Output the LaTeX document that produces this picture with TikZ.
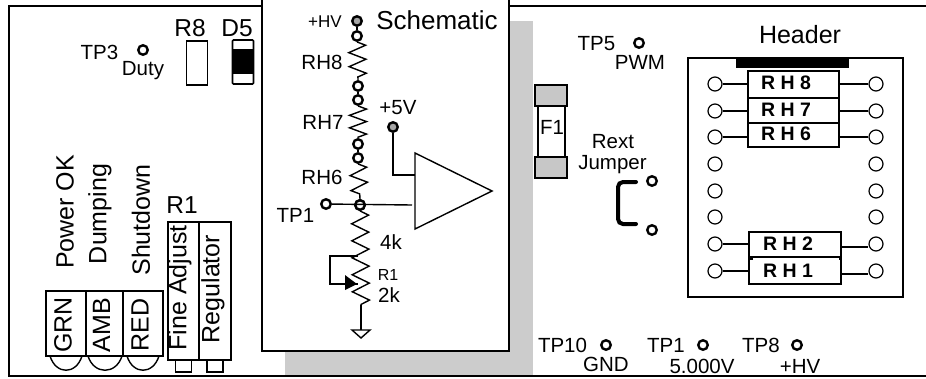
\documentclass[tikz,border=0pt]{standalone}
\usepackage{fontspec}
\setmainfont{Liberation Sans}
\usetikzlibrary{positioning,arrows.meta,decorations.pathmorphing}
\newcommand{\fsz}[1]{\fontsize{#1}{#1}\selectfont}

\begin{document}
\begin{tikzpicture}[
    x=1pt, y=-1pt,
    % Define styles for the board parts
    label_big/.style={font=\fsz{25}, inner sep=0pt},
    label_ref/.style={font=\fsz{24.5}, inner sep=0pt},
    label_mid/.style={font=\fsz{20.5}, inner sep=0pt},
    label_rh/.style={font=\fsz{19.5}\bfseries, inner sep=0pt, anchor=west},
    part/.style={rectangle, draw=black, line width=1.4pt, fill=white, inner sep=0pt},
    resbox/.style={part, minimum width=91pt},
    capbox/.style={part, fill=black!22, minimum width=32pt, minimum height=21pt},
    tpoint/.style={circle, draw=black, line width=2.4pt, fill=white, minimum size=9.5pt, inner sep=0pt},
    supply/.style={tpoint, fill=black!35},
    pin/.style={circle, draw=black, line width=1.2pt, fill=white, minimum size=14pt, inner sep=0pt},
    wire/.style={line width=1.4pt},
    rzig/.style={wire, decorate, decoration={zigzag, segment length=#1, amplitude=8.5pt}},
    rzig/.default=15pt,
    edge_line/.style={line width=2.4pt}
]
    \useasboundingbox (0,0) rectangle (926,378);

    % Board outline and shadow
    \fill[black!20] (285,21) rectangle (533,375);
    \draw[edge_line] (261,6) -- (9,6) -- (9,376) -- (926,376);
    \draw[edge_line] (510,6) -- (926,6);
    \draw[edge_line, fill=white] (262,-3) rectangle (509,351);

    % Left side labels
    \node[label_mid] (tp3_txt) at (99.5,52) {TP3};
    \node[tpoint] (tp3) at (143,50) {};
    \node[label_mid] (duty) at (143,71) {Duty};
    \node[label_ref] (r8_txt) at (190,28) {R8};
    \node[label_ref] (d5_txt) at (237,28) {D5};
    \node[part, minimum width=21pt, minimum height=44pt] (r8) at (197,63) {};
    \node[part, line width=1.6pt, rounded corners=1pt, minimum width=21pt, minimum height=44pt] (d5) at (243,62) {};
    \node[rectangle, fill=black, minimum width=21pt, minimum height=25pt, inner sep=0pt] (d5_band) at (243,61) {};

    % Status LEDs
    \node[label_big, rotate=90] (pok) at (65,212) {Power OK};
    \node[label_big, rotate=90] (dump) at (100,214) {Dumping};
    \node[label_big, rotate=90] (shut) at (141,220) {Shutdown};
    \foreach \x/\w/\name in {66/40/GRN,104.5/37/AMB,143/40/RED} {
        \node[part, minimum width=\w pt, minimum height=65pt] (led\name) at (\x,323.5) {};
        \node[label_big, rotate=90] (txt\name) at (\x-3,325) {\name};
    }
    \draw[wire] (50,356) .. controls (56,375) and (76,375) .. (82,356);
    \draw[wire] (88,356) .. controls (94,375) and (116,375) .. (122,356);
    \draw[wire] (127,356) .. controls (133,375) and (153,375) .. (159,356);

    % Trim pots
    \node[label_ref] (r1_txt) at (182,205) {R1};
    \node[part, minimum width=16pt, minimum height=12pt] (foot1) at (183.5,366) {};
    \node[part, minimum width=16pt, minimum height=12pt] (foot2) at (215,366) {};
    \node[part, minimum width=31pt, minimum height=138pt] (pot1) at (183.5,291) {};
    \node[part, minimum width=32pt, minimum height=138pt] (pot2) at (215,291) {};
    \node[label_big, rotate=90] (fine) at (180,288) {Fine Adjust};
    \node[label_big, rotate=90] (reg) at (213,289) {Regulator};

    % Schematic
    \node[font=\fsz{26}, inner sep=0pt] (sch) at (437,20) {Schematic};
    \node[font=\fsz{17}, inner sep=0pt] (hv_txt) at (325,22) {+HV};
    \node[supply] (hv) at (357,21) {};
    \node[tpoint] (a1) at (357,36) {};
    \node[tpoint] (a2) at (358,86) {};
    \node[tpoint] (b1) at (358,100) {};
    \node[tpoint] (b2) at (358,144) {};
    \node[tpoint] (c1) at (358,158) {};
    \node[tpoint] (c2) at (360,205) {};
    \node[tpoint] (tp1) at (326,204) {};
    \node[supply] (vcc) at (393,127) {};
    \coordinate (wip) at (358,284);
    \coordinate (rtop) at (358,256);
    \coordinate (rend) at (361,305);
    \coordinate (gnd) at (361,330);
    \coordinate (amp_p) at (412,205);
    \coordinate (amp_v) at (415,175);

    \draw[wire] (hv) -- (a1);
    \draw[wire] (a2) -- (b1);
    \draw[wire] (b2) -- (c1);
    \draw[rzig=14pt] (a1.south) -- (a2.north);
    \draw[rzig=12.5pt] (b1.south) -- (b2.north);
    \draw[rzig=15pt] (c1.south) -- (c2.north);
    \draw[rzig=17pt] (c2.south) -- (rend);
    \node[tpoint] at (c2) {};
    \draw[wire] (rend) -- (gnd);
    \draw[wire] (352,330) -- (370,330) -- (361,338) -- cycle;
    \draw[wire] (rtop) -- (330,256) -- (330,284) -- (wip);
    \fill (345,275) -- (345,290) -- (357,284) -- cycle;

    \draw[wire] (tp1) -- (amp_p);
    \draw[wire] (vcc) |- (amp_v);
    \draw[line width=1.4pt, fill=white] (415,153) -- (492,191) -- (415,229) -- cycle;

    \node[label_mid] (rh8_txt) at (322,62) {RH8};
    \node[label_mid] (rh7_txt) at (323,122) {RH7};
    \node[label_mid] (rh6_txt) at (322,177) {RH6};
    \node[label_mid] (v5_txt) at (398,108) {+5V};
    \node[label_mid] (tp1_txt) at (295.5,215) {TP1};
    \node[label_mid] (k4_txt) at (391,242) {4k};
    \node[font=\fsz{16}, inner sep=0pt] (r1s_txt) at (388,275) {R1};
    \node[label_mid] (k2_txt) at (389,295) {2k};

    % Fuse
    \node[part, minimum width=27pt, minimum height=52pt] (fuse) at (551.5,131.5) {};
    \node[capbox] (cap1) at (551,95.5) {};
    \node[capbox] (cap2) at (551,167.5) {};
    \node[label_mid] (f1_txt) at (552,127) {F1};

    % Test points and jumper
    \node[label_mid] (tp5_txt) at (596.5,44) {TP5};
    \node[tpoint] (tp5) at (639,43) {};
    \node[label_mid] (pwm) at (640,62) {PWM};
    \node[label_mid] (rext) at (613,142) {Rext};
    \node[label_mid] (jump) at (612.5,165) {Jumper};
    \node[tpoint] (j1) at (652,181) {};
    \node[tpoint] (j2) at (652,230) {};
    \draw[line width=4pt, line cap=round, rounded corners=5pt] (636,182) -- (618,182) -- (618,224) -- (636,224);

    \node[label_mid] (tp10_txt) at (562.5,345) {TP10};
    \node[tpoint] (tp10) at (606,345) {};
    \node[label_mid] (gnd_txt) at (606,364) {GND};
    \node[label_mid] (tp1b_txt) at (666,345) {TP1};
    \node[tpoint] (tp1b) at (703,345) {};
    \node[label_mid] (v_txt) at (702,366) {5.000V};
    \node[label_mid] (tp8_txt) at (761,345) {TP8};
    \node[tpoint] (tp8) at (797,345) {};
    \node[label_mid] (hvb_txt) at (800,366) {+HV};

    % Header socket
    \node[font=\fsz{25}, inner sep=0pt] (hdr_txt) at (800,35) {Header};
    \node[rectangle, draw=black, line width=1.4pt, minimum width=215pt, minimum height=239pt, inner sep=0pt] (hdr) at (795.5,177.5) {};
    \fill (736,58) rectangle (849,68);
    \foreach \y [count=\i] in {84,111,137,164,191,217,244,271} {
        \node[pin] (l\i) at (715,\y) {};
        \node[pin] (r\i) at (876,\y) {};
    }

    % Header resistors
    \node[resbox, minimum height=27pt] (rh8) at (793.5,84.5) {};
    \node[resbox, minimum height=25pt] (rh7) at (793.5,110.5) {};
    \node[resbox, minimum height=24pt] (rh6) at (793.5,135) {};
    \node[resbox, minimum height=25pt, minimum width=92pt] (rh2) at (795,244.5) {};
    \draw[wire] (753,259) -- (749,259) -- (749,284) -- (841,284) -- (841,259) -- (839,259);
    \coordinate (rh1w) at (749,271);
    \coordinate (rh1e) at (841,274);
    \foreach \i/\name in {1/rh8,2/rh7,3/rh6,7/rh2} {
        \draw[wire] (l\i) -- (\name.west |- l\i);
    }
    \draw[wire] (l8) -- (rh1w);
    \draw[wire] (rh8.east |- r1) -- (r1);
    \draw[wire] (rh7.east |- r2) -- (r2);
    \draw[wire] (rh6.east |- r3) -- (r3);
    \draw[wire] ([yshift=-2.5pt]rh2.east) -- ([yshift=-3pt]r7.west);
    \draw[wire] (rh1e) -- ([yshift=-3pt]r8.west);

    \node[label_rh] (rh8_lbl) at (761,83) {R H 8};
    \node[label_rh] (rh7_lbl) at (761,110) {R H 7};
    \node[label_rh] (rh6_lbl) at (761,134) {R H 6};
    \node[label_rh] (rh2_lbl) at (763,244) {R H 2};
    \node[label_rh] (rh1_lbl) at (763,271) {R H 1};
\end{tikzpicture}
\end{document}
